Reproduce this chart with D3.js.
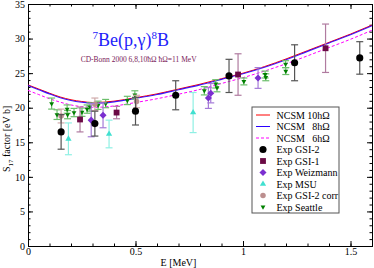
<!DOCTYPE html>
<html>
<head>
<meta charset="utf-8">
<style>
  body { margin: 0; background: #fff; }
  text { font-family: "Liberation Serif", "DejaVu Serif", serif; }
</style>
</head>
<body>
<div id="chart"></div>
<script src="https://cdn.jsdelivr.net/npm/d3@7/dist/d3.min.js"></script>
<script>
// NCSM curves: [E, S17]
var ncsm10 = [[0,23.3],[0.05,22.7],[0.1,22.1],[0.15,21.55],[0.2,21.15],[0.25,20.9],[0.3,20.75],[0.35,20.8],[0.4,20.95],[0.5,21.45],[0.6,22.0],[0.7,22.7],[0.8,23.4],[0.9,24.2],[1.0,25.0],[1.1,25.95],[1.2,27.05],[1.3,28.25],[1.4,29.45],[1.5,30.65],[1.6,31.95]];
var ncsm8 = [[0,23.2],[0.05,22.6],[0.1,22.0],[0.15,21.45],[0.2,21.05],[0.25,20.8],[0.3,20.65],[0.35,20.7],[0.4,20.85],[0.5,21.35],[0.6,21.9],[0.7,22.6],[0.8,23.3],[0.9,24.1],[1.0,24.9],[1.1,25.85],[1.2,26.95],[1.3,28.15],[1.4,29.35],[1.5,30.55],[1.6,31.85]];
var ncsm6 = [[0,22.5],[0.05,21.9],[0.1,21.3],[0.15,20.8],[0.2,20.4],[0.25,20.15],[0.3,20.05],[0.35,20.1],[0.4,20.25],[0.5,20.75],[0.6,21.3],[0.7,21.95],[0.8,22.65],[0.9,23.5],[1.0,24.35],[1.1,25.3],[1.2,26.35],[1.3,27.5],[1.4,28.7],[1.5,29.9],[1.6,31.2]];

// experiments: [E, S17, error]
var gsi2 = [[0.154,16.5,2.5],[0.311,17.7,1.8],[0.5,19.5,2.0],[0.687,21.8,2.1],[0.935,24.6,2.4],[1.24,26.5,2.6],[1.543,27.2,2.35]];
var gsi1 = [[0.242,18.3,1.8],[0.412,19.3,0.9],[0.977,24.8,3.0],[1.384,28.6,3.5]];
var weizmann = [[0.294,18.2,2.4],[0.349,18.9,1.8],[0.839,21.4,1.5],[0.85,22.1,1.4],[1.07,24.3,1.5]];
var msu = [[0.188,15.5,2.3],[0.377,16.2,2.0],[0.768,19.3,2.9]];
var gsi2corr = [[0.154,18.8,1.0],[0.311,20.5,0.9],[0.505,20.9,0.9]];
var seattle = [[0.110,20.6,0.8],[0.135,19.0,0.7],[0.182,19.8,0.6],[0.184,19.0,0.6],[0.214,19.3,0.6],[0.251,19.35,0.6],[0.275,19.8,0.6],[0.288,20.1,0.6],[0.326,20.35,0.6],[0.361,20.6,0.6],[0.462,21.05,0.6],[0.497,21.85,0.6],[0.820,22.45,0.6],[0.873,23.45,0.6],[0.879,22.9,0.6],[1.004,23.8,0.5],[1.103,24.8,0.5],[1.106,24.4,0.5],[1.198,26.3,0.5],[1.199,25.3,0.5]];

var xTicks = [0, 0.5, 1, 1.5];
var yTicks = [0, 5, 10, 15, 20, 25, 30, 35];

var margin = {top: 4, right: 2, bottom: 22, left: 28};
var width = 374 - margin.left - margin.right,
    height = 268 - margin.top - margin.bottom;

var svg = d3.select("#chart").append("svg")
    .attr("width", 374)
    .attr("height", 268);
var g = svg.append("g")
    .attr("transform", "translate(" + margin.left + "," + margin.top + ")");

var x = d3.scaleLinear().domain([0, 1.6]).range([0, width]),
    y = d3.scaleLinear().domain([0, 35]).range([height, 0]);

var xMinor = d3.range(0, 1.61, 0.1).map(function(d){ return +d.toFixed(1); });
var yMinor = d3.range(0, 36, 1);

function styleAxis(sel) {
  sel.selectAll("path, line").attr("stroke", "#000");
  sel.selectAll("text").attr("fill", "#000").style("font-size", "10px")
    .style("font-family", "'Liberation Serif', serif");
}
var fmt = function(d){ return d3.format("")(d); };

// minor ticks on all four sides
g.append("g").attr("transform", "translate(0," + height + ")")
  .call(d3.axisBottom(x).tickValues(xMinor).tickSize(-2.5).tickFormat(""))
  .call(styleAxis);
g.append("g")
  .call(d3.axisTop(x).tickValues(xMinor).tickSize(-2.5).tickFormat(""))
  .call(styleAxis);
g.append("g")
  .call(d3.axisLeft(y).tickValues(yMinor).tickSize(-2.5).tickFormat(""))
  .call(styleAxis);
g.append("g").attr("transform", "translate(" + width + ",0)")
  .call(d3.axisRight(y).tickValues(yMinor).tickSize(-2.5).tickFormat(""))
  .call(styleAxis);

// major ticks
g.append("g").attr("transform", "translate(0," + height + ")")
  .call(d3.axisBottom(x).tickValues(xTicks).tickSizeInner(-5).tickSizeOuter(0).tickPadding(2).tickFormat(fmt))
  .call(styleAxis);
g.append("g")
  .call(d3.axisTop(x).tickValues(xTicks).tickSizeInner(-5).tickSizeOuter(0).tickFormat(""))
  .call(styleAxis);
g.append("g")
  .call(d3.axisLeft(y).tickValues(yTicks).tickSizeInner(-5).tickSizeOuter(0).tickPadding(3).tickFormat(fmt))
  .call(styleAxis);
g.append("g").attr("transform", "translate(" + width + ",0)")
  .call(d3.axisRight(y).tickValues(yTicks).tickSizeInner(-5).tickSizeOuter(0).tickFormat(""))
  .call(styleAxis);

// axis titles
svg.append("text")
  .attr("x", margin.left + x(0.7)).attr("y", 266)
  .attr("text-anchor", "middle").style("font-size", "10px")
  .text("E [MeV]");
var yl = svg.append("text")
  .attr("transform", "translate(10," + (margin.top + y(15.5)) + ") rotate(-90)")
  .attr("text-anchor", "middle").style("font-size", "10px");
yl.append("tspan").text("S");
yl.append("tspan").attr("dy", 2.5).style("font-size", "7px").text("17");
yl.append("tspan").attr("dy", -2.5).text(" factor [eV b]");

// title
var title = g.append("text").attr("x", x(0.3)).attr("y", 42)
  .attr("fill", "#1e1efa").style("font-size", "18px");
title.append("tspan").attr("dy", -7).style("font-size", "11px").text("7");
title.append("tspan").attr("dy", 7).text("Be(p,γ)");
title.append("tspan").attr("dy", -7).style("font-size", "11px").text("8");
title.append("tspan").attr("dy", 7).text("B");

g.append("text").attr("x", x(0.245)).attr("y", 58)
  .attr("fill", "#7a1a5a").style("font-size", "7.5px")
  .text("CD-Bonn 2000 6,8,10ħΩ ħΩ=11 MeV");

// curves
var line = d3.line()
  .x(function(d){ return x(d[0]); })
  .y(function(d){ return y(d[1]); })
  .curve(d3.curveMonotoneX);

g.append("path").datum(ncsm6).attr("d", line)
  .attr("fill", "none").attr("stroke", "#ff00ff").attr("stroke-width", 1)
  .attr("stroke-dasharray", "3,2");
g.append("path").datum(ncsm10).attr("d", line)
  .attr("fill", "none").attr("stroke", "#ff0000").attr("stroke-width", 1);
g.append("path").datum(ncsm8).attr("d", line)
  .attr("fill", "none").attr("stroke", "#2a00ff").attr("stroke-width", 1.1)
  .attr("stroke-opacity", 0.9);

// error bars + markers
var sym = {
  circle: d3.symbol().type(d3.symbolCircle),
  square: d3.symbol().type(d3.symbolSquare),
  diamond: d3.symbol().type(d3.symbolDiamond2),
  triangle: d3.symbol().type(d3.symbolTriangle2)
};

var series = [
  {name: "Exp GSI-2", data: gsi2, fill: "#000000", bar: "#555555", shape: "circle", size: 40},
  {name: "Exp GSI-1", data: gsi1, fill: "#6b0a45", bar: "#b07ba0", shape: "square", size: 34},
  {name: "Exp Weizmann", data: weizmann, fill: "#7b2fd0", bar: "#a57ad8", shape: "diamond", size: 32},
  {name: "Exp MSU", data: msu, fill: "#40e0d0", bar: "#8ff0e4", shape: "triangle", size: 28},
  {name: "Exp GSI-2 corr", data: gsi2corr, fill: "#bc8f8f", bar: "#cfaaaa", shape: "circle", size: 24},
  {name: "Exp Seattle", data: seattle, fill: "#008000", bar: "#6cbf6c", shape: "down", size: 17}
];

function drawSeries(s) {
  var grp = g.append("g");
  var eb = grp.selectAll(".eb").data(s.data).enter().append("g");
  eb.append("line")
    .attr("x1", function(d){ return x(d[0]); }).attr("x2", function(d){ return x(d[0]); })
    .attr("y1", function(d){ return y(d[1] - d[2]); }).attr("y2", function(d){ return y(d[1] + d[2]); })
    .attr("stroke", s.bar).attr("stroke-width", 1.2);
  [-1, 1].forEach(function(sgn){
    eb.append("line")
      .attr("x1", function(d){ return x(d[0]) - 3.5; }).attr("x2", function(d){ return x(d[0]) + 3.5; })
      .attr("y1", function(d){ return y(d[1] + sgn * d[2]); }).attr("y2", function(d){ return y(d[1] + sgn * d[2]); })
      .attr("stroke", s.bar).attr("stroke-width", 1.2);
  });
  grp.selectAll(".m").data(s.data).enter().append("path")
    .attr("d", s.shape === "down" ? sym.triangle.size(s.size)() : sym[s.shape].size(s.size)())
    .attr("transform", function(d){
      return "translate(" + x(d[0]) + "," + y(d[1]) + ")" + (s.shape === "down" ? " rotate(180)" : "");
    })
    .attr("fill", s.fill);
}
// draw order: seattle first under the others
[series[5], series[4], series[3], series[2], series[1], series[0]].forEach(drawSeries);

// legend
var lg = g.append("g").attr("transform", "translate(" + (252 - margin.left) + "," + (107 - margin.top) + ")");
lg.append("rect").attr("width", 87).attr("height", 106)
  .attr("fill", "#fff").attr("stroke", "#555").attr("stroke-width", 1);

var legendLines = [
  {name: "NCSM 10hΩ", color: "#ff0000", dash: null},
  {name: "NCSM   8hΩ", color: "#2a00ff", dash: null},
  {name: "NCSM   6hΩ", color: "#ff00ff", dash: "3,2"}
];
legendLines.forEach(function(l, i){
  var yy = 8 + i * 11.5;
  lg.append("line").attr("x1", 4).attr("x2", 18).attr("y1", yy).attr("y2", yy)
    .attr("stroke", l.color).attr("stroke-dasharray", l.dash);
  lg.append("text").attr("x", 24.5).attr("y", yy + 3.5).style("font-size", "10px")
    .style("white-space", "pre").attr("xml:space", "preserve").text(l.name);
});
series.forEach(function(s, i){
  var yy = 8 + (i + 3) * 11.5;
  var shape = s.shape === "down" ? sym.triangle : sym[s.shape];
  lg.append("path").attr("d", shape.size(s.size)())
    .attr("transform", "translate(11," + yy + ")" + (s.shape === "down" ? " rotate(180)" : ""))
    .attr("fill", s.fill);
  lg.append("text").attr("x", 24.5).attr("y", yy + 3.5).style("font-size", "10px").text(s.name);
});
</script>
</body>
</html>
